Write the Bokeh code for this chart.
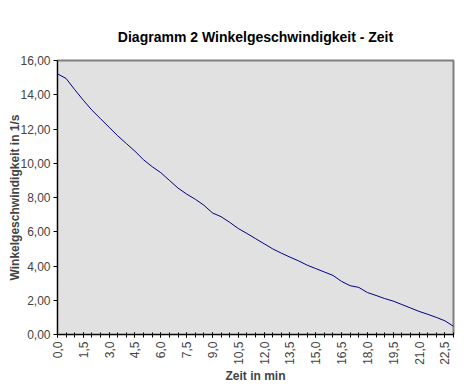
import math
from bokeh.plotting import figure
from bokeh.models import Range1d, FixedTicker, CustomJSTickFormatter
from bokeh.embed import file_html
from bokeh.resources import INLINE

zeit_min = [0.0, 0.5, 1.0, 1.5, 2.0, 2.5, 3.0, 3.5, 4.0, 4.5, 5.0, 5.5, 6.0, 6.5,
            7.0, 7.5, 8.0, 8.5, 9.0, 9.5, 10.0, 10.5, 11.0, 11.5, 12.0, 12.5,
            13.0, 13.5, 14.0, 14.5, 15.0, 15.5, 16.0, 16.5, 17.0, 17.5, 18.0,
            18.5, 19.0, 19.5, 20.0, 20.5, 21.0, 21.5, 22.0, 22.5, 23.0]
winkelgeschw = [15.22, 14.95, 14.30, 13.68, 13.10, 12.60, 12.10, 11.60, 11.15,
                10.70, 10.20, 9.80, 9.45, 9.00, 8.55, 8.20, 7.90, 7.55, 7.10,
                6.88, 6.55, 6.19, 5.90, 5.60, 5.30, 5.00, 4.75, 4.52, 4.30,
                4.05, 3.85, 3.65, 3.45, 3.10, 2.85, 2.75, 2.45, 2.28, 2.10,
                1.95, 1.75, 1.55, 1.35, 1.18, 1.00, 0.80, 0.48]
x_label_ticks = [0.0, 1.5, 3.0, 4.5, 6.0, 7.5, 9.0, 10.5, 12.0, 13.5, 15.0,
                 16.5, 18.0, 19.5, 21.0, 22.5]
y_ticks = [0, 2, 4, 6, 8, 10, 12, 14, 16]

title_text = "Diagramm 2 Winkelgeschwindigkeit - Zeit"
x_title = "Zeit in min"
y_title = "Winkelgeschwindigkeit in 1/s"

FONT = "Liberation Sans"

p = figure(width=475, height=392, output_backend="svg", toolbar_location=None,
           x_range=Range1d(0, 23), y_range=Range1d(0, 16),
           min_border_left=57, min_border_right=22, min_border_top=60,
           min_border_bottom=58)

p.title.text = title_text
p.title.align = "center"
p.title.vertical_align = "top"
p.title.text_font = FONT
p.title.text_font_size = "14px"
p.title.text_font_style = "bold"
p.title.text_color = "black"
p.title.standoff = 27
p.title.offset = -11

p.background_fill_color = "#E1E1E1"
p.border_fill_color = "white"
p.outline_line_color = "#808080"
p.outline_line_width = 2
p.xgrid.visible = False
p.ygrid.visible = False

p.line(zeit_min, winkelgeschw, line_color="#000080", line_width=1)

xa = p.xaxis[0]
xa.ticker = FixedTicker(ticks=x_label_ticks, minor_ticks=zeit_min)
xa.formatter = CustomJSTickFormatter(code="return tick.toFixed(1).replace('.', ',');")
xa.major_label_orientation = math.pi / 2
xa.major_label_text_font = FONT
xa.major_label_text_font_size = "12px"
xa.major_label_standoff = 4
xa.major_tick_in = 2
xa.major_tick_out = 3
xa.minor_tick_in = 2
xa.minor_tick_out = 3
xa.minor_tick_line_color = "black"
xa.major_tick_line_color = "black"
xa.axis_line_color = "black"
xa.axis_label = x_title
xa.axis_label_text_font = FONT
xa.axis_label_text_font_size = "12px"
xa.axis_label_text_font_style = "bold"
xa.axis_label_standoff = 1

ya = p.yaxis[0]
ya.ticker = FixedTicker(ticks=y_ticks)
ya.formatter = CustomJSTickFormatter(code="return tick.toFixed(2).replace('.', ',');")
ya.major_label_text_font = FONT
ya.major_label_text_font_size = "12px"
ya.major_label_standoff = 3
ya.major_tick_in = 0
ya.major_tick_out = 4
ya.minor_tick_line_color = None
ya.axis_line_color = "black"
ya.major_tick_line_color = "black"
ya.axis_label = y_title
ya.axis_label_text_font = FONT
ya.axis_label_text_font_size = "12px"
ya.axis_label_text_font_style = "bold"
ya.axis_label_standoff = -5

open("out.html", "w").write(file_html(p, INLINE))
